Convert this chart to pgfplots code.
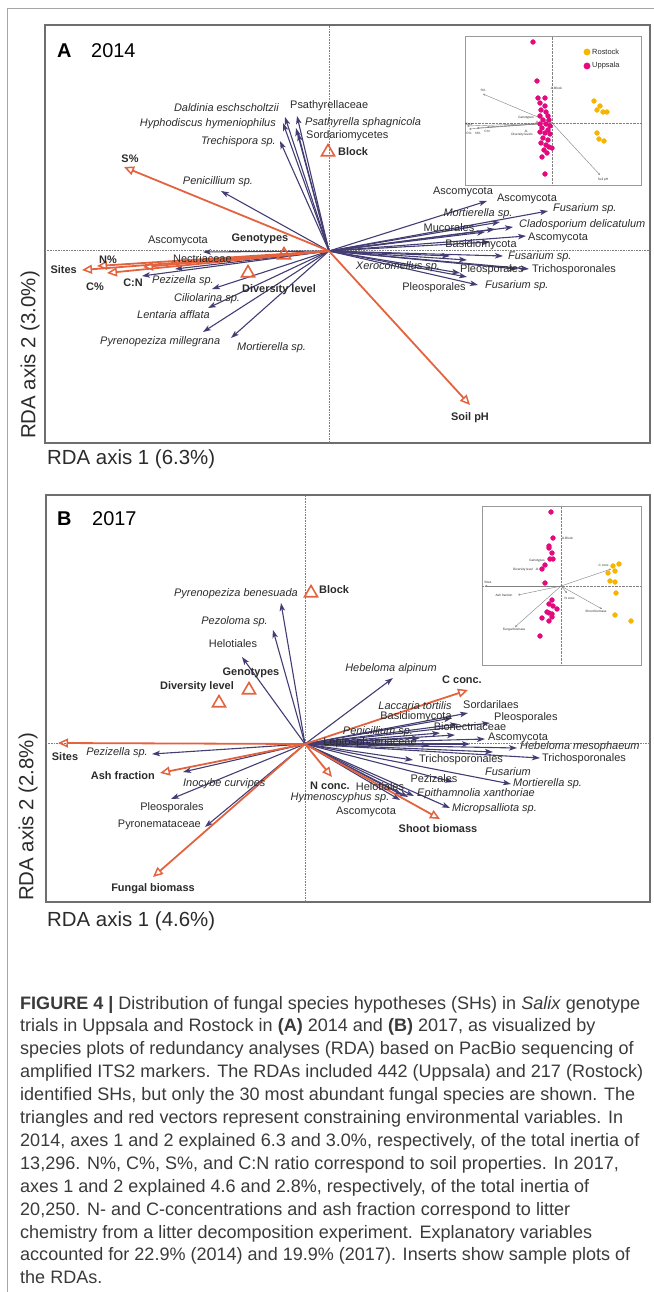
\documentclass[border=0pt]{standalone}
\usepackage{pgfplots}
\pgfplotsset{compat=1.18}
\usepackage{fontspec}
\setmainfont{Liberation Sans}
\usetikzlibrary{arrows.meta}
\definecolor{vec}{HTML}{433D73}
\definecolor{env}{HTML}{E4633F}
\definecolor{txt}{HTML}{2B2B2B}
\definecolor{boxc}{HTML}{6E6E6E}
\definecolor{upp}{HTML}{E5097F}
\definecolor{ros}{HTML}{F7B500}
\definecolor{capc}{HTML}{3A3A3A}
\tikzset{
  bvec/.style={vec, line width=1.1bp, -{Stealth[length=8bp,width=5.5bp,inset=2bp]}},
  evec/.style={env, line width=1.8bp, -{Triangle[open,length=10bp,width=9bp,line width=1.5bp]}},
  ivec/.style={gray, line width=0.4bp, -{Triangle[open,length=2bp,width=2bp,line width=0.3bp]}},
  lbl/.style={font=\fontsize{11}{13}\selectfont, inner sep=0pt, text=txt},
  ilbl/.style={font=\fontsize{11}{13}\selectfont\itshape, inner sep=0pt, text=txt},
  blbl/.style={font=\fontsize{11}{13}\selectfont\bfseries, inner sep=0pt, text=txt},
  tlbl/.style={font=\fontsize{3.2}{4}\selectfont, inner sep=0pt, text=txt},
  capt/.style={font=\fontsize{18.1}{21}\selectfont, anchor=base west, inner sep=0pt, text=capc},
  axl/.style={font=\fontsize{20.5}{24}\selectfont, inner sep=0pt, text=txt},
}
\pgfplotsset{
  rda/.style={scale only axis, xtick=\empty, ytick=\empty, clip=false,
    axis line style={draw=boxc, line width=1.3bp}},
  insx/.style={scale only axis, xtick=\empty, ytick=\empty, clip=false,
    axis background/.style={fill=white},
    axis line style={draw=gray!80, line width=0.7bp}},
}
\newcommand{\bv}[2]{\addplot[bvec] coordinates {(0,0) (#1,#2)};}
\newcommand{\ev}[2]{\addplot[evec] coordinates {(0,0) (#1,#2)};}
\newcommand{\iv}[2]{\addplot[ivec] coordinates {(0,0) (#1,#2)};}
\newcommand{\tri}[2]{\addplot[only marks, mark=triangle, mark size=7.5bp, env, mark options={line width=1.6bp}] coordinates {(#1,#2)};}
\begin{document}
\begin{tikzpicture}
\useasboundingbox (0bp,0bp) rectangle (654bp,-1292bp);
% outer frame
\draw[gray!70, line width=1bp] (7bp,-1292bp) -- (7bp,-8bp) -- (654bp,-8bp);

% ================= Panel A =================
\begin{axis}[rda, at={(45bp,-443bp)}, anchor=south west, width=605bp, height=418bp,
  xmin=-284, xmax=321, ymin=-192, ymax=226]
\draw[gray, densely dotted, line width=0.6bp] (axis cs:0,-192) -- (axis cs:0,226);
\draw[gray, densely dotted, line width=0.6bp] (axis cs:-284,1) -- (axis cs:321,1);
% species vectors
\bv{-44}{134}\bv{-46}{128}\bv{-32}{135}\bv{-33}{123}\bv{-31}{118}\bv{-49}{110}
\bv{-108}{60}\bv{-126}{-1}\bv{-154}{-18}\bv{-187}{-25}\bv{-117}{-38}\bv{-121}{-57}
\bv{-126}{-81}\bv{-98}{-87}
\bv{158}{50}\bv{171}{29}\bv{166}{22}\bv{219}{40}\bv{156}{19}\bv{184}{24}\bv{197}{15}
\bv{161}{9}\bv{174}{-5}\bv{131}{-22}\bv{121}{-5}\bv{138}{-9}\bv{200}{-18}\bv{188}{-18}
\bv{138}{-26}\bv{149}{-34}
% environmental vectors
\ev{-205}{84}\ev{-247}{-19}\ev{-232}{-15}\ev{-222}{-22}\ev{-186}{-16}\ev{141}{-154}
\tri{-1}{99}\tri{-45}{-4}\tri{-81}{-22}
% labels
\node[ilbl, anchor=east] at (axis cs:-50,143) {Daldinia eschscholtzii};
\node[ilbl, anchor=east] at (axis cs:-53,127) {Hyphodiscus hymeniophilus};
\node[lbl, anchor=west] at (axis cs:-39,145) {Psathyrellaceae};
\node[ilbl, anchor=west] at (axis cs:-24,128) {Psathyrella sphagnicola};
\node[lbl, anchor=west] at (axis cs:-23,115) {Sordariomycetes};
\node[ilbl, anchor=east] at (axis cs:-53,109) {Trechispora sp.};
\node[ilbl] at (axis cs:-111,69) {Penicillium sp.};
\node[lbl] at (axis cs:-151,10) {Ascomycota};
\node[lbl, anchor=west] at (axis cs:-156,-8) {Nectriaceae};
\node[ilbl, anchor=west] at (axis cs:-177,-30) {Pezizella sp.};
\node[ilbl, anchor=west] at (axis cs:-155,-48) {Ciliolarina sp.};
\node[ilbl, anchor=west] at (axis cs:-192,-64) {Lentaria afflata};
\node[ilbl, anchor=west] at (axis cs:-229,-91) {Pyrenopeziza millegrana};
\node[ilbl, anchor=west] at (axis cs:-92,-97) {Mortierella sp.};
\node[lbl] at (axis cs:134,59) {Ascomycota};
\node[lbl] at (axis cs:198,52) {Ascomycota};
\node[ilbl] at (axis cs:149,37) {Mortierella sp.};
\node[ilbl, anchor=west] at (axis cs:224,42) {Fusarium sp.};
\node[lbl] at (axis cs:120,23) {Mucorales};
\node[ilbl, anchor=west] at (axis cs:190,26) {Cladosporium delicatulum};
\node[lbl, anchor=west] at (axis cs:199,13) {Ascomycota};
\node[lbl] at (axis cs:152,6) {Basidiomycota};
\node[ilbl, anchor=west] at (axis cs:179,-6) {Fusarium sp.};
\node[ilbl] at (axis cs:69,-16) {Xerocomellus sp.};
\node[lbl, anchor=west] at (axis cs:131,-19) {Pleosporales};
\node[lbl, anchor=west] at (axis cs:203,-19) {Trichosporonales};
\node[lbl] at (axis cs:105,-37) {Pleosporales};
\node[ilbl, anchor=west] at (axis cs:156,-35) {Fusarium sp.};
\node[blbl] at (axis cs:-199,92) {S\%};
\node[blbl, anchor=east] at (axis cs:-252,-19) {Sites};
\node[blbl] at (axis cs:-221,-9) {N\%};
\node[blbl] at (axis cs:-234,-36) {C\%};
\node[blbl] at (axis cs:-196,-32) {C:N};
\node[blbl] at (axis cs:141,-167) {Soil pH};
\node[blbl, anchor=west] at (axis cs:9,99) {Block};
\node[blbl] at (axis cs:-69,12) {Genotypes};
\node[blbl] at (axis cs:-50,-39) {Diversity level};
\end{axis}

% inset A
\begin{axis}[insx, at={(465bp,-185bp)}, anchor=south west, width=176bp, height=149bp,
  xmin=-87, xmax=89, ymin=-62, ymax=87]
\draw[gray, densely dotted, line width=0.4bp] (axis cs:0,-62) -- (axis cs:0,87);
\draw[gray, densely dotted, line width=0.4bp] (axis cs:-87,0) -- (axis cs:89,0);
\iv{-69}{29}\iv{-85}{-3}\iv{-83}{-6}\iv{-75}{-5}\iv{-65}{-4}\iv{48}{-52}
\addplot[only marks, mark=triangle, mark size=1.3bp, gray, mark options={line width=0.3bp}] coordinates {(0,35) (-15,1) (-26,-8)};
\addplot[only marks, mark=*, mark size=2.4bp, upp] coordinates {
 (-19,81) (-15,42) (-14,25) (-7,25) (-12,20) (-7,17) (-11,13) (-6,11) (-12,7) (-4,7)
 (-9,3) (-3,3) (-12,-1) (-6,-1) (-2,-3) (-10,-5) (-4,-7) (-12,-9) (-7,-10) (-2,-11)
 (-9,-15) (-4,-17) (-11,-20) (-6,-22) (-8,-27) (-3,-24) (0,-25) (-10,-34) (-5,-30) (-7,-51)};
\addplot[only marks, mark=*, mark size=2.4bp, ros] coordinates {
 (42,22) (48,17) (45,13) (51,11) (55,11) (45,-10) (47,-16) (52,-18)};
\addplot[only marks, mark=*, mark size=3.2bp, ros] coordinates {(35,71)};
\addplot[only marks, mark=*, mark size=3.2bp, upp] coordinates {(35,57)};
\node[font=\fontsize{7.5}{9}\selectfont, anchor=west, inner sep=0pt, text=txt] at (axis cs:40,71) {Rostock};
\node[font=\fontsize{7.5}{9}\selectfont, anchor=west, inner sep=0pt, text=txt] at (axis cs:40,57) {Uppsala};
\node[tlbl] at (axis cs:-69,33) {S\%};
\node[tlbl, anchor=west] at (axis cs:2,35) {Block};
\node[tlbl] at (axis cs:-26,5) {Genotypes};
\node[tlbl] at (axis cs:-30,-12) {Diversity levels};
\node[tlbl] at (axis cs:-83,-1) {Sites};
\node[tlbl] at (axis cs:-83,-10) {C\%};
\node[tlbl] at (axis cs:-74,-10) {N\%};
\node[tlbl] at (axis cs:-65,-8) {C:N};
\node[tlbl] at (axis cs:51,-57) {Soil pH};
\end{axis}

\node[axl, rotate=90] at (30bp,-355bp) {RDA axis 2 (3.0\%)};
\node[axl, anchor=west] at (47bp,-459bp) {RDA axis 1 (6.3\%)};
\node[font=\fontsize{20}{24}\selectfont\bfseries, anchor=base west, inner sep=0pt, text=black] at (57bp,-57bp) {A};
\node[font=\fontsize{20}{24}\selectfont, anchor=base west, inner sep=0pt, text=black] at (91bp,-57bp) {2014};

% ================= Panel B =================
\begin{axis}[rda, at={(46bp,-902bp)}, anchor=south west, width=604bp, height=407bp,
  xmin=-259, xmax=345, ymin=-158, ymax=249]
\draw[gray, densely dotted, line width=0.6bp] (axis cs:0,-158) -- (axis cs:0,249);
\draw[gray, densely dotted, line width=0.6bp] (axis cs:-259,1) -- (axis cs:345,1);
\bv{-24}{141}\bv{-32}{114}\bv{-63}{87}\bv{-153}{-10}\bv{-122}{-28}\bv{-134}{-55}\bv{-100}{-83}
\bv{88}{66}\bv{163}{31}\bv{147}{26}\bv{153}{20}\bv{185}{21}\bv{135}{11}\bv{150}{9}
\bv{180}{5}\bv{125}{-1}\bv{212}{-4}\bv{188}{-8}\bv{108}{-16}\bv{235}{-14}\bv{206}{-40}
\bv{148}{-38}\bv{97}{-51}\bv{103}{-53}\bv{109}{-52}\bv{145}{-64}\bv{95}{-56}
\bv{115}{6}\bv{165}{0}
\ev{-247}{1}\ev{-145}{-29}\ev{-152}{-133}\ev{163}{54}\ev{27}{-33}\ev{135}{-75}
\tri{6}{151}\tri{-56}{54}\tri{-86}{41}
\node[ilbl, anchor=east] at (axis cs:-7,150) {Pyrenopeziza benesuada};
\node[ilbl, anchor=east] at (axis cs:-37,122) {Pezoloma sp.};
\node[lbl] at (axis cs:-72,100) {Helotiales};
\node[ilbl, anchor=east] at (axis cs:-157,-9) {Pezizella sp.};
\node[ilbl, anchor=west] at (axis cs:-122,-40) {Inocybe curvipes};
\node[lbl] at (axis cs:-133,-64) {Pleosporales};
\node[lbl, anchor=east] at (axis cs:-104,-81) {Pyronemataceae};
\node[ilbl] at (axis cs:86,75) {Hebeloma alpinum};
\node[lbl, anchor=west] at (axis cs:158,39) {Sordarilaes};
\node[ilbl] at (axis cs:110,38) {Laccaria tortilis};
\node[lbl] at (axis cs:111,27) {Basidiomycota};
\node[lbl, anchor=west] at (axis cs:189,26) {Pleosporales};
\node[ilbl] at (axis cs:73,12) {Penicillium sp.};
\node[lbl] at (axis cs:165,17) {Bionectriaceae};
\node[lbl, anchor=west] at (axis cs:183,6) {Ascomycota};
\node[lbl] at (axis cs:65,1) {Leptosphaeriaceae};
\node[ilbl, anchor=west] at (axis cs:215,-3) {Hebeloma mesophaeum};
\node[ilbl] at (axis cs:203,-28) {Fusarium};
\node[lbl, anchor=west] at (axis cs:114,-16) {Trichosporonales};
\node[lbl, anchor=west] at (axis cs:237,-15) {Trichosporonales};
\node[ilbl, anchor=west] at (axis cs:208,-40) {Mortierella sp.};
\node[lbl] at (axis cs:129,-35) {Pezizales};
\node[lbl] at (axis cs:75,-43) {Helotiales};
\node[ilbl] at (axis cs:35,-54) {Hymenoscyphus sp.};
\node[ilbl, anchor=west] at (axis cs:112,-50) {Epithamnolia xanthoriae};
\node[ilbl, anchor=west] at (axis cs:147,-65) {Micropsalliota sp.};
\node[lbl] at (axis cs:61,-68) {Ascomycota};
\node[blbl] at (axis cs:-240,-13) {Sites};
\node[blbl, anchor=east] at (axis cs:-150,-32) {Ash fraction};
\node[blbl] at (axis cs:-152,-145) {Fungal biomass};
\node[blbl] at (axis cs:157,64) {C conc.};
\node[blbl] at (axis cs:25,-42) {N conc.};
\node[blbl] at (axis cs:133,-85) {Shoot biomass};
\node[blbl, anchor=west] at (axis cs:14,154) {Block};
\node[blbl] at (axis cs:-54,71) {Genotypes};
\node[blbl] at (axis cs:-108,57) {Diversity level};
\end{axis}

% inset B
\begin{axis}[insx, at={(482bp,-665bp)}, anchor=south west, width=159bp, height=159bp,
  xmin=-79, xmax=80, ymin=-79, ymax=80]
\draw[gray, densely dotted, line width=0.4bp] (axis cs:0,-79) -- (axis cs:0,80);
\draw[gray, densely dotted, line width=0.4bp] (axis cs:-79,0) -- (axis cs:80,0);
\iv{-76}{0}\iv{-43}{-9}\iv{50}{17}\iv{6}{-7}\iv{41}{-23}\iv{-46}{-41}
\addplot[only marks, mark=triangle, mark size=1.3bp, gray, mark options={line width=0.3bp}] coordinates {(2,48) (-24,17)};
\addplot[only marks, mark=*, mark size=2.4bp, upp] coordinates {
 (-10,74) (-8,48) (-12,40) (-12,38) (-9,33) (-11,27) (-8,27) (-16,21) (-19,17) (-16,3)
 (-9,-14) (-12,-18) (-8,-20) (-4,-23) (-14,-26) (-12,-27) (-9,-28) (-9,-31) (-19,-32)
 (-12,-35) (-21,-50)};
\addplot[only marks, mark=*, mark size=2.4bp, ros] coordinates {
 (52,20) (58,22) (47,13) (54,15) (49,5) (54,4) (55,-7) (54,-29) (70,-35)};
\node[tlbl, anchor=west] at (axis cs:4,48) {Block};
\node[tlbl] at (axis cs:-24,25) {Genotypes};
\node[tlbl] at (axis cs:-38,16) {Diversity level};
\node[tlbl] at (axis cs:-73,4) {Sites};
\node[tlbl] at (axis cs:-57,-9) {Ash fraction};
\node[tlbl] at (axis cs:43,21) {C conc.};
\node[tlbl] at (axis cs:9,-12) {N conc.};
\node[tlbl] at (axis cs:35,-25) {Shoot biomass};
\node[tlbl] at (axis cs:-47,-44) {Fungal biomass};
\end{axis}

\node[axl, rotate=90] at (28bp,-817bp) {RDA axis 2 (2.8\%)};
\node[axl, anchor=west] at (47bp,-921bp) {RDA axis 1 (4.6\%)};
\node[font=\fontsize{20}{24}\selectfont\bfseries, anchor=base west, inner sep=0pt, text=black] at (57bp,-525bp) {B};
\node[font=\fontsize{20}{24}\selectfont, anchor=base west, inner sep=0pt, text=black] at (92bp,-525bp) {2017};

% ================= Caption =================
\node[capt] at (20bp,-1009.0bp) {\textbf{FIGURE 4 |} Distribution of fungal species hypotheses (SHs) in \textit{Salix} genotype};
\node[capt] at (20bp,-1031.9bp) {trials in Uppsala and Rostock in \textbf{(A)} 2014 and \textbf{(B)} 2017, as visualized by};
\node[capt] at (20bp,-1054.8bp) {species plots of redundancy analyses (RDA) based on PacBio sequencing of};
\node[capt] at (20bp,-1077.7bp) {amplified ITS2 markers. The RDAs included 442 (Uppsala) and 217 (Rostock)};
\node[capt] at (20bp,-1100.6bp) {identified SHs, but only the 30 most abundant fungal species are shown. The};
\node[capt] at (20bp,-1123.5bp) {triangles and red vectors represent constraining environmental variables. In};
\node[capt] at (20bp,-1146.4bp) {2014, axes 1 and 2 explained 6.3 and 3.0\%, respectively, of the total inertia of};
\node[capt] at (20bp,-1169.3bp) {13,296. N\%, C\%, S\%, and C:N ratio correspond to soil properties. In 2017,};
\node[capt] at (20bp,-1192.2bp) {axes 1 and 2 explained 4.6 and 2.8\%, respectively, of the total inertia of};
\node[capt] at (20bp,-1215.1bp) {20,250. N- and C-concentrations and ash fraction correspond to litter};
\node[capt] at (20bp,-1238.0bp) {chemistry from a litter decomposition experiment. Explanatory variables};
\node[capt] at (20bp,-1260.9bp) {accounted for 22.9\% (2014) and 19.9\% (2017). Inserts show sample plots of};
\node[capt] at (20bp,-1283.8bp) {the RDAs.};
\end{tikzpicture}
\end{document}
